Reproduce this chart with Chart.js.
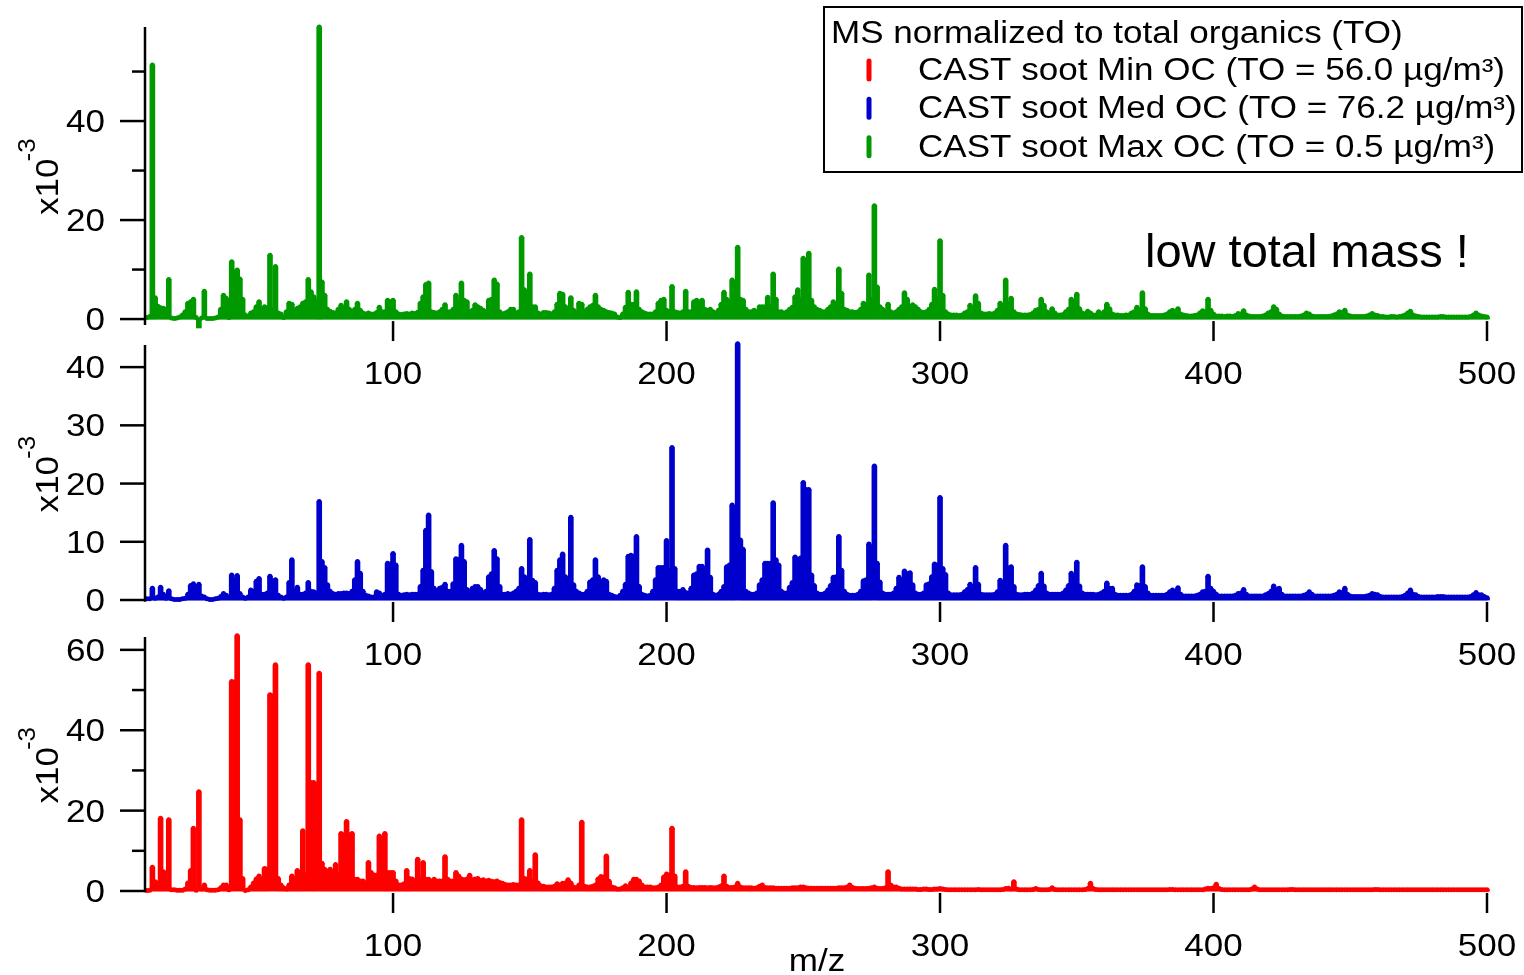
<!DOCTYPE html>
<html>
<head>
<meta charset="utf-8">
<title>CAST soot mass spectra</title>
<script src="https://cdn.jsdelivr.net/npm/chart.js@4.4.1/dist/chart.umd.min.js"></script>
<style>
  html, body { margin: 0; padding: 0; background: #fff; }
  #wrap { position: relative; width: 1524px; height: 975px; overflow: hidden; }
  #wrap canvas { position: absolute; left: 0; top: 0; }
</style>
</head>
<body>
<div id="wrap">
  <canvas id="maxChart" width="1524" height="975"></canvas>
  <canvas id="medChart" width="1524" height="975"></canvas>
  <canvas id="minChart" width="1524" height="975"></canvas>
</div>
<script>
// m/z axis (unit mass resolution)
const mzFirst = 10;
const mzLast = 500;
const mz = [];
for (let m = mzFirst; m <= mzLast; m++) mz.push(m);

const xTicks = [100, 200, 300, 400, 500];

// y tick values per panel (x10^-3)
const maxTicks = [0, 20, 40];
const maxMinor = [10, 30, 50];
const medTicks = [0, 10, 20, 30, 40];
const medMinor = [];
const minTicks = [0, 20, 40, 60];
const minMinor = [10, 30, 50];

const seriesNames = [
    'CAST soot Min OC (TO = 56.0 \u00b5g/m\u00b3)',
    'CAST soot Med OC (TO = 76.2 \u00b5g/m\u00b3)',
    'CAST soot Max OC (TO = 0.5 \u00b5g/m\u00b3)'
];
const seriesColors = ['#ff0000', '#0000cc', '#009900'];

// Max OC, m/z 10..500
const maxOC = [
    0.3, 0.5, 51.3, 4.3, 2.6, 2.3, 2.2, 2.0, 8.0, 0.2,      // 10
    0.1, 0.2, 0.4, 0.8, 1.5, 3.2, 3.5, 4.0, 0.3, -1.8,      // 20
    0.2, 5.6, 0.1, 0.1, 0.1, 0.2, 0.4, 2.0, 4.8, 4.2,       // 30
    0.3, 11.6, 9.5, 9.9, 8.1, 4.0, 0.8, 0.5, 1.2, 1.5,      // 40
    2.5, 3.5, 2.0, 2.5, 2.3, 12.9, 2.0, 10.6, 1.2, 1.0,     // 50
    0.3, 1.5, 3.2, 3.0, 1.8, 2.2, 2.5, 3.2, 3.5, 8.0,       // 60
    5.5, 4.5, 3.5, 59.0, 7.5, 4.8, 2.0, 1.6, 1.3, 1.2,      // 70
    2.0, 2.8, 2.0, 3.5, 2.0, 1.5, 2.0, 3.2, 1.8, 1.2,       // 80
    1.0, 1.2, 1.0, 1.0, 1.3, 2.4, 1.5, 1.5, 3.8, 3.5,       // 90
    3.8, 1.5, 1.0, 0.9, 1.0, 1.1, 1.0, 1.2, 1.1, 1.4,       // 100
    3.2, 4.5, 7.0, 7.3, 1.5, 1.3, 1.2, 1.5, 2.0, 2.9,       // 110
    1.5, 1.5, 2.0, 4.8, 3.5, 7.3, 3.8, 3.5, 1.5, 1.8,       // 120
    2.9, 2.5, 2.2, 1.8, 1.5, 3.8, 4.0, 7.9, 7.1, 1.5,       // 130
    1.0, 1.2, 1.5, 2.0, 2.0, 1.2, 1.5, 16.5, 5.9, 2.0,      // 140
    9.1, 2.5, 2.5, 1.2, 1.0, 1.3, 1.3, 1.2, 1.0, 1.5,       // 150
    3.0, 5.2, 5.0, 2.5, 2.0, 4.3, 1.8, 1.2, 3.2, 3.0,       // 160
    1.5, 2.0, 2.5, 2.8, 4.8, 2.5, 2.0, 1.8, 1.5, 1.3,       // 170
    1.2, 1.0, 0.4, 0.3, 1.0, 2.4, 5.4, 3.0, 3.0, 5.5,       // 180
    2.0, 1.5, 1.2, 1.0, 1.0, 1.0, 1.5, 3.2, 3.8, 4.0,       // 190
    1.8, 1.5, 6.6, 1.5, 1.3, 1.2, 1.5, 5.6, 1.5, 1.5,       // 200
    3.5, 3.8, 3.5, 3.8, 2.0, 1.8, 2.0, 1.5, 1.2, 1.8,       // 210
    3.0, 5.4, 4.0, 3.5, 7.9, 4.5, 14.5, 4.0, 3.8, 2.0,      // 220
    1.5, 1.5, 1.8, 1.5, 2.5, 2.5, 2.5, 4.4, 2.5, 9.1,       // 230
    4.0, 1.5, 1.5, 1.2, 1.5, 2.0, 2.4, 4.5, 5.9, 4.0,       // 240
    12.3, 11.8, 13.3, 3.8, 2.5, 2.0, 1.8, 1.5, 1.5, 2.0,    // 250
    2.5, 3.5, 2.5, 10.1, 5.2, 2.0, 1.8, 1.5, 1.5, 1.3,      // 260
    1.5, 2.0, 3.2, 3.0, 8.9, 4.0, 22.9, 6.5, 2.5, 2.0,      // 270
    1.5, 3.0, 1.5, 1.2, 1.5, 2.0, 2.5, 5.3, 4.0, 2.5,       // 280
    2.9, 2.5, 2.0, 1.5, 1.3, 1.5, 2.0, 3.0, 6.0, 4.0,       // 290
    15.8, 4.8, 1.5, 1.0, 0.8, 0.8, 0.8, 0.7, 0.8, 1.2,      // 300
    1.5, 2.8, 2.0, 4.7, 3.2, 1.2, 1.0, 1.0, 1.1, 1.0,       // 310
    1.2, 1.8, 3.2, 2.5, 7.9, 3.0, 4.2, 1.5, 1.0, 0.9,       // 320
    0.8, 0.8, 0.8, 0.9, 1.2, 1.8, 2.0, 4.0, 2.8, 1.5,       // 330
    1.2, 2.1, 1.2, 0.8, 0.8, 0.9, 1.5, 2.0, 4.0, 2.5,       // 340
    5.0, 2.1, 1.2, 1.0, 1.6, 1.2, 0.8, 0.8, 1.5, 1.0,       // 350
    1.5, 3.0, 2.1, 1.0, 0.8, 0.8, 0.7, 0.7, 0.8, 0.8,       // 360
    1.2, 1.5, 2.4, 1.8, 5.3, 2.1, 1.0, 0.7, 0.7, 0.7,       // 370
    0.7, 0.7, 0.8, 1.0, 1.5, 1.8, 1.5, 2.1, 1.0, 0.8,       // 380
    0.7, 0.6, 0.6, 0.7, 0.8, 1.2, 1.7, 1.5, 4.0, 1.8,       // 390
    1.0, 0.6, 0.6, 0.6, 0.5, 0.6, 0.6, 0.5, 0.7, 1.1,       // 400
    1.0, 1.7, 0.8, 0.6, 0.5, 0.5, 0.5, 0.5, 0.6, 0.8,       // 410
    1.2, 1.5, 2.5, 2.0, 1.0, 0.6, 0.5, 0.5, 0.5, 0.5,       // 420
    0.5, 0.5, 0.6, 0.8, 1.2, 1.0, 0.6, 0.5, 0.5, 0.5,       // 430
    0.5, 0.5, 0.5, 0.6, 0.8, 1.0, 1.5, 1.3, 1.8, 0.8,       // 440
    0.6, 0.5, 0.5, 0.5, 0.5, 0.5, 0.6, 0.8, 1.1, 0.8,       // 450
    0.7, 0.5, 0.5, 0.4, 0.4, 0.5, 0.5, 0.4, 0.5, 0.6,       // 460
    0.8, 1.2, 1.6, 0.8, 0.6, 0.5, 0.4, 0.4, 0.4, 0.4,       // 470
    0.4, 0.4, 0.4, 0.5, 0.5, 0.4, 0.4, 0.4, 0.4, 0.4,       // 480
    0.4, 0.4, 0.4, 0.4, 0.5, 0.8, 1.2, 0.8, 0.6, 0.5,       // 490
    0.4                                                     // 500
];

// Med OC, m/z 10..500
const medOC = [
    0.2, 0.2, 2.0, 0.3, 0.5, 2.2, 1.0, 0.3, 1.6, 0.2,       // 10
    0.1, 0.1, 0.1, 0.2, 0.3, 1.0, 2.5, 2.8, 1.5, 2.7,       // 20
    0.7, 0.5, 0.2, 0.1, 0.1, 0.2, 0.3, 0.6, 1.1, 0.8,       // 30
    0.5, 4.3, 3.5, 4.2, 1.1, 0.5, 0.3, 0.5, 1.7, 1.5,       // 40
    3.2, 3.7, 1.0, 1.0, 1.2, 4.1, 3.3, 3.5, 0.8, 0.5,       // 50
    0.3, 0.5, 3.0, 6.9, 1.5, 2.2, 1.0, 1.0, 1.2, 3.0,       // 60
    1.5, 1.4, 1.2, 16.9, 6.6, 5.6, 2.6, 1.5, 1.1, 1.0,      // 70
    1.1, 1.1, 1.2, 1.2, 1.1, 1.5, 3.5, 6.6, 4.6, 1.5,       // 80
    0.8, 0.7, 0.5, 0.5, 1.4, 1.2, 0.8, 1.0, 6.3, 6.2,       // 90
    8.0, 6.0, 1.0, 0.8, 0.9, 1.0, 0.9, 1.0, 1.0, 1.0,       // 100
    2.3, 5.1, 12.0, 14.6, 4.9, 2.0, 1.5, 2.0, 2.2, 2.7,     // 110
    1.5, 1.5, 2.8, 7.1, 7.0, 9.4, 6.6, 1.8, 1.5, 2.0,       // 120
    2.3, 2.3, 1.8, 1.2, 1.5, 4.0, 4.5, 8.5, 7.1, 2.3,       // 130
    1.0, 1.0, 1.1, 1.0, 1.2, 1.5, 2.0, 5.4, 4.0, 3.8,       // 140
    10.4, 3.4, 3.0, 1.0, 0.9, 1.0, 1.0, 0.9, 1.0, 2.0,      // 150
    5.1, 6.9, 7.9, 4.0, 3.5, 14.2, 2.6, 1.5, 1.2, 1.0,      // 160
    1.0, 1.5, 3.1, 3.5, 6.9, 4.0, 3.0, 3.5, 3.2, 1.0,       // 170
    0.8, 0.6, 0.5, 0.8, 1.5, 2.7, 7.5, 7.7, 7.5, 10.9,      // 180
    2.3, 1.0, 0.8, 0.7, 0.8, 1.5, 3.5, 5.6, 5.6, 5.6,       // 190
    10.2, 5.0, 26.2, 5.4, 1.5, 1.5, 1.8, 1.3, 1.2, 2.0,     // 200
    4.3, 4.5, 5.8, 5.8, 5.0, 8.6, 3.9, 1.0, 0.8, 1.0,       // 210
    1.5, 2.3, 5.7, 6.0, 16.3, 12.0, 44.0, 10.3, 8.7, 1.5,   // 220
    1.2, 1.0, 1.0, 1.2, 2.6, 3.5, 6.3, 6.3, 6.3, 16.7,      // 230
    6.9, 6.0, 1.5, 1.2, 1.2, 2.2, 3.0, 7.4, 7.0, 7.2,       // 240
    20.2, 19.0, 19.0, 4.3, 2.5, 1.2, 1.0, 1.0, 1.2, 1.7,    // 250
    2.5, 3.9, 4.0, 10.9, 5.1, 1.5, 1.0, 0.8, 0.8, 0.8,      // 260
    1.0, 1.5, 3.3, 3.5, 9.6, 9.0, 23.0, 6.3, 3.1, 1.2,      // 270
    1.0, 1.0, 1.0, 1.2, 2.0, 3.9, 3.5, 5.0, 4.5, 4.7,       // 280
    2.6, 1.2, 1.0, 1.0, 1.2, 2.6, 2.8, 4.0, 6.2, 6.0,       // 290
    17.6, 5.4, 4.4, 1.2, 0.9, 0.9, 0.9, 0.9, 1.0, 1.4,      // 300
    1.8, 2.7, 2.0, 5.6, 2.7, 1.0, 0.9, 0.9, 0.9, 0.9,       // 310
    1.0, 1.4, 3.4, 3.0, 9.4, 5.5, 5.7, 2.3, 1.0, 0.9,       // 320
    0.9, 1.0, 1.0, 1.0, 1.2, 1.7, 2.5, 4.6, 2.4, 1.2,       // 330
    1.0, 1.0, 1.0, 1.0, 1.0, 1.2, 1.7, 2.5, 4.6, 2.5,       // 340
    6.5, 2.4, 1.2, 1.0, 1.0, 1.0, 1.0, 0.9, 1.0, 1.2,       // 350
    1.5, 2.9, 2.0, 2.0, 1.0, 0.8, 0.8, 0.8, 0.8, 0.8,       // 360
    1.0, 1.5, 2.6, 2.5, 5.7, 2.3, 1.2, 0.8, 0.8, 0.8,       // 370
    0.8, 0.8, 0.8, 1.0, 1.4, 1.7, 1.5, 2.1, 1.0, 0.7,       // 380
    0.7, 0.7, 0.7, 0.7, 0.8, 1.0, 1.4, 1.5, 4.1, 2.0,       // 390
    1.5, 1.0, 0.7, 0.7, 0.7, 0.7, 0.7, 0.7, 0.8, 1.1,       // 400
    1.2, 1.8, 1.0, 0.7, 0.7, 0.7, 0.7, 0.7, 0.7, 0.9,       // 410
    1.1, 1.5, 2.4, 1.8, 2.0, 1.0, 0.7, 0.7, 0.7, 0.7,       // 420
    0.7, 0.7, 0.7, 0.8, 1.0, 1.4, 1.0, 0.7, 0.7, 0.7,       // 430
    0.7, 0.7, 0.7, 0.7, 0.8, 1.0, 1.4, 1.3, 2.0, 1.0,       // 440
    0.7, 0.6, 0.6, 0.6, 0.6, 0.6, 0.7, 0.8, 1.1, 1.0,       // 450
    0.9, 0.6, 0.5, 0.5, 0.5, 0.5, 0.5, 0.5, 0.5, 0.6,       // 460
    0.8, 1.2, 1.7, 1.0, 0.9, 0.6, 0.5, 0.5, 0.5, 0.5,       // 470
    0.5, 0.5, 0.6, 0.6, 0.6, 0.5, 0.5, 0.5, 0.5, 0.5,       // 480
    0.5, 0.5, 0.5, 0.5, 0.6, 0.9, 1.3, 0.9, 0.9, 0.6,       // 490
    0.4                                                     // 500
];

// Min OC, m/z 10..500
const minOC = [
    0.1, 0.2, 5.9, 2.3, 2.0, 18.1, 4.8, 4.5, 17.7, 0.3,     // 10
    0.3, 0.2, 0.2, 0.2, 0.5, 2.0, 5.1, 15.6, 0.2, 24.7,     // 20
    0.5, 1.5, 0.3, 0.2, 0.2, 0.2, 0.3, 0.8, 1.5, 1.5,       // 30
    0.3, 52.1, 52.0, 63.5, 17.7, 3.1, 0.1, 0.3, 1.0, 2.0,   // 40
    3.0, 3.7, 3.0, 5.6, 5.5, 48.8, 48.5, 56.3, 3.1, 1.5,    // 50
    0.8, 0.5, 1.5, 3.7, 3.0, 5.1, 2.0, 15.0, 4.0, 56.3,     // 60
    27.0, 27.0, 26.5, 54.2, 6.9, 5.4, 5.0, 5.4, 4.5, 6.6,   // 70
    4.0, 14.3, 14.0, 17.3, 14.0, 14.3, 2.9, 2.9, 2.5, 2.5,  // 80
    2.0, 7.1, 4.6, 4.0, 4.0, 13.7, 4.5, 14.3, 4.6, 4.6,     // 90
    4.6, 2.5, 1.5, 1.5, 1.8, 5.1, 3.1, 3.0, 2.5, 7.9,       // 100
    3.0, 7.1, 2.9, 2.9, 2.5, 2.9, 2.5, 2.5, 2.5, 8.5,       // 110
    2.9, 2.5, 2.5, 4.6, 3.7, 3.0, 2.8, 3.0, 3.9, 2.8,       // 120
    3.0, 3.1, 2.6, 2.8, 2.5, 2.7, 2.4, 2.3, 2.5, 2.1,       // 130
    1.9, 1.6, 1.5, 1.5, 1.6, 1.5, 1.5, 17.7, 3.1, 3.0,      // 140
    5.1, 2.5, 9.0, 2.0, 1.3, 1.2, 1.0, 1.0, 1.0, 1.2,       // 150
    1.8, 1.5, 1.9, 2.0, 2.8, 2.0, 1.0, 0.8, 1.5, 17.1,      // 160
    1.2, 1.0, 1.0, 1.2, 1.5, 3.0, 3.6, 3.5, 8.7, 2.4,       // 170
    1.0, 0.8, 0.5, 0.5, 0.8, 1.3, 1.0, 2.0, 2.9, 2.9,       // 180
    2.5, 1.5, 1.0, 1.0, 1.0, 0.8, 0.8, 1.0, 1.5, 3.5,       // 190
    4.2, 4.0, 15.6, 3.7, 1.0, 1.0, 1.2, 4.8, 1.2, 0.9,      // 200
    0.9, 0.8, 0.9, 0.9, 0.9, 0.8, 0.9, 0.8, 0.8, 1.0,       // 210
    1.3, 3.7, 1.2, 0.9, 0.9, 1.0, 1.9, 1.0, 0.8, 0.8,       // 220
    0.8, 0.8, 0.7, 0.8, 1.2, 1.5, 0.9, 0.8, 0.8, 0.8,       // 230
    0.7, 0.7, 0.7, 0.7, 0.7, 0.7, 0.8, 0.8, 0.8, 1.0,       // 240
    1.0, 0.8, 0.7, 0.7, 0.7, 0.7, 0.7, 0.7, 0.7, 0.7,       // 250
    0.7, 0.7, 0.7, 0.8, 0.8, 0.8, 1.0, 1.5, 0.9, 0.7,       // 260
    0.6, 0.6, 0.6, 0.6, 0.7, 0.8, 1.0, 0.7, 0.6, 0.6,       // 270
    0.8, 4.8, 1.5, 1.0, 1.0, 0.7, 0.5, 0.5, 0.5, 0.5,       // 280
    0.5, 0.5, 0.4, 0.4, 0.5, 0.5, 0.4, 0.4, 0.5, 0.5,       // 290
    0.6, 0.5, 0.4, 0.3, 0.3, 0.3, 0.3, 0.3, 0.3, 0.3,       // 300
    0.3, 0.3, 0.3, 0.3, 0.4, 0.3, 0.3, 0.3, 0.3, 0.3,       // 310
    0.3, 0.3, 0.3, 0.4, 0.6, 0.7, 0.5, 2.3, 0.5, 0.3,       // 320
    0.3, 0.3, 0.3, 0.3, 0.4, 0.6, 0.4, 0.3, 0.3, 0.3,       // 330
    0.4, 0.8, 0.4, 0.3, 0.3, 0.3, 0.3, 0.3, 0.3, 0.3,       // 340
    0.3, 0.3, 0.3, 0.4, 0.6, 1.9, 0.6, 0.4, 0.3, 0.3,       // 350
    0.3, 0.3, 0.3, 0.3, 0.3, 0.3, 0.3, 0.3, 0.3, 0.3,       // 360
    0.3, 0.3, 0.3, 0.3, 0.3, 0.3, 0.3, 0.3, 0.3, 0.3,       // 370
    0.3, 0.3, 0.3, 0.3, 0.4, 0.4, 0.3, 0.3, 0.3, 0.3,       // 380
    0.3, 0.3, 0.3, 0.3, 0.3, 0.3, 0.3, 0.5, 0.7, 0.6,       // 390
    0.8, 1.7, 0.6, 0.4, 0.3, 0.3, 0.3, 0.3, 0.3, 0.3,       // 400
    0.3, 0.3, 0.3, 0.3, 0.5, 1.0, 0.5, 0.3, 0.3, 0.3,       // 410
    0.3, 0.3, 0.3, 0.3, 0.3, 0.3, 0.3, 0.3, 0.4, 0.4,       // 420
    0.3, 0.3, 0.3, 0.3, 0.3, 0.3, 0.3, 0.3, 0.3, 0.3,       // 430
    0.3, 0.3, 0.3, 0.3, 0.3, 0.3, 0.3, 0.3, 0.3, 0.3,       // 440
    0.3, 0.3, 0.3, 0.3, 0.3, 0.3, 0.3, 0.3, 0.3, 0.4,       // 450
    0.4, 0.3, 0.3, 0.3, 0.3, 0.3, 0.3, 0.3, 0.3, 0.3,       // 460
    0.3, 0.3, 0.3, 0.3, 0.3, 0.3, 0.3, 0.3, 0.3, 0.3,       // 470
    0.3, 0.3, 0.3, 0.3, 0.3, 0.3, 0.3, 0.3, 0.3, 0.3,       // 480
    0.3, 0.3, 0.3, 0.3, 0.3, 0.3, 0.3, 0.3, 0.3, 0.3,       // 490
    0.3                                                     // 500
];

const FONT = '"Liberation Sans", Arial, Helvetica, sans-serif';
const STRETCH = 1.13;   // the original lettering is a bit wider than Arial

function drawText(ctx, str, x, y, size, align, sx) {
    ctx.save();
    ctx.translate(x, y);
    ctx.scale(sx, 1);
    ctx.font = size + 'px ' + FONT;
    ctx.textAlign = align;
    ctx.textBaseline = 'alphabetic';
    ctx.fillText(str, 0, 0);
    ctx.restore();
}

function strokeLine(ctx, x1, y1, x2, y2) {
    ctx.beginPath();
    ctx.moveTo(x1, y1);
    ctx.lineTo(x2, y2);
    ctx.stroke();
}

// Igor-style axes: left axis with outside ticks, x ticks + labels under each panel
const panelAxes = {
    id: 'panelAxes',
    afterDraw(chart, args, opts) {
        const ctx = chart.ctx;
        const xs = chart.scales.x;
        const ys = chart.scales.y;
        const area = chart.chartArea;
        const x0 = area.left;
        const zeroY = ys.getPixelForValue(0);

        ctx.save();
        ctx.strokeStyle = '#000';
        ctx.fillStyle = '#000';
        ctx.lineWidth = 2.5;
        strokeLine(ctx, x0, area.top, x0, area.bottom);

        opts.major.forEach(v => {
            const y = ys.getPixelForValue(v);
            strokeLine(ctx, x0 - 25, y, x0, y);
            drawText(ctx, String(v), 105, y + 11, 31, 'right', STRETCH);
        });
        opts.minor.forEach(v => {
            const y = ys.getPixelForValue(v);
            strokeLine(ctx, x0 - 13, y, x0, y);
        });
        xTicks.forEach(v => {
            const x = xs.getPixelForValue(v);
            strokeLine(ctx, x, zeroY + 2, x, zeroY + 22);
            drawText(ctx, String(v), x, zeroY + 65, 31, 'center', STRETCH);
        });

        // rotated "x10^-3"
        const cy = (area.top + area.bottom) / 2 + 4;
        ctx.translate(58, cy);
        ctx.rotate(-Math.PI / 2);
        ctx.font = '31px ' + FONT;
        const w = ctx.measureText('x10').width * STRETCH;
        drawText(ctx, 'x10', -35, 0, 31, 'left', STRETCH);
        drawText(ctx, '-3', -35 + w - 3, -23, 23, 'left', STRETCH);
        ctx.restore();
    }
};

// legend box and annotation (drawn with the top panel)
const legendBox = {
    id: 'legendBox',
    afterDraw(chart) {
        const ctx = chart.ctx;
        ctx.save();
        ctx.fillStyle = '#fff';
        ctx.fillRect(824, 7, 698, 165);
        ctx.strokeStyle = '#000';
        ctx.lineWidth = 2;
        ctx.strokeRect(824, 7, 698, 165);
        ctx.fillStyle = '#000';
        drawText(ctx, 'MS normalized to total organics (TO)', 831, 42.5, 31, 'left', STRETCH);
        const baselines = [80, 118.3, 156.7];
        seriesNames.forEach((name, i) => {
            const b = baselines[i];
            ctx.strokeStyle = seriesColors[i];
            ctx.lineWidth = 5;
            ctx.lineCap = 'round';
            strokeLine(ctx, 869, b - 19, 869, b - 1);
            ctx.fillStyle = '#000';
            drawText(ctx, name, 918, b, 31, 'left', STRETCH);
        });
        drawText(ctx, 'low total mass !', 1145, 267, 47, 'left', 1);
        ctx.restore();
    }
};

const mzLabel = {
    id: 'mzLabel',
    afterDraw(chart) {
        const ctx = chart.ctx;
        ctx.save();
        ctx.fillStyle = '#000';
        drawText(ctx, 'm/z', 817, 971, 31, 'center', STRETCH);
        ctx.restore();
    }
};

function makePanel(canvasId, values, color, yMin, yMax, top, bottom, major, minor, extra) {
    const points = mz.map((m, i) => ({ x: m, y: values[i] }));
    return new Chart(document.getElementById(canvasId), {
        type: 'bar',
        data: {
            datasets: [
                {
                    type: 'bar',
                    data: points,
                    backgroundColor: color,
                    barThickness: 5,
                    clip: false,
                    order: 2
                },
                {
                    type: 'line',
                    data: points,
                    showLine: false,
                    pointRadius: 2.5,
                    pointHoverRadius: 2.5,
                    pointBackgroundColor: color,
                    pointBorderWidth: 0,
                    clip: false,
                    order: 1
                }
            ]
        },
        options: {
            responsive: false,
            animation: false,
            events: [],
            layout: { padding: { left: 145, right: 37, top: top, bottom: 975 - bottom } },
            plugins: {
                legend: { display: false },
                tooltip: { enabled: false },
                panelAxes: { major: major, minor: minor }
            },
            scales: {
                x: { type: 'linear', min: 9.3, max: 500, offset: false, display: false },
                y: { type: 'linear', min: yMin, max: yMax, display: false }
            }
        },
        plugins: [panelAxes].concat(extra)
    });
}

document.addEventListener('DOMContentLoaded', function() {
    if (typeof Chart === 'undefined') {
        console.error('Chart.js not loaded');
        return;
    }
    makePanel('maxChart', maxOC, seriesColors[2], -1.2, 59, 27, 325, maxTicks, maxMinor, [legendBox]);
    makePanel('medChart', medOC, seriesColors[1], -0.3, 43.8, 345, 601.75, medTicks, medMinor, []);
    makePanel('minChart', minOC, seriesColors[0], -0.3, 63.2, 637, 892.2, minTicks, minMinor, [mzLabel]);
});
</script>
</body>
</html>
